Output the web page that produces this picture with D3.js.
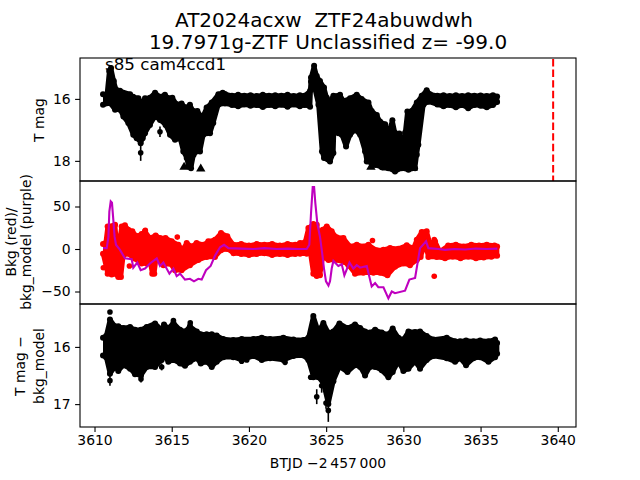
<!DOCTYPE html>
<html lang="en">
<head>
<meta charset="UTF-8">
<script src="https://d3js.org/d3.v7.min.js"></script>
<style>
    body { margin: 0; background: #fff; }
    svg { display: block; font-family: "DejaVu Sans", sans-serif; }
    .axis text { font-size: 13.9px; fill: #000; font-family: "DejaVu Sans", sans-serif; }
    .axis line { stroke: #000; stroke-width: 1.1; }
    .axis path { display: none; }
</style>
<title>AT2024acxw</title>
</head>
<body>
<svg id="chart" width="640" height="480"></svg>
<script>
// top panel: upper and lower edge of the T mag points
var topT1 = [3610.55,3610.8,3610.95,3611.07,3611.25,3611.4,3611.65,3612.3,3612.5,3612.84,3613.05,3613.27,3613.59,3613.92,3614.24,3614.56,3614.82,3615.04,3615.32,3615.64,3615.9,3616.18,3616.4,3616.66,3616.98,3617.26,3617.59,3618.02,3618.3,3618.45,3618.9,3619.3,3619.7,3620.1,3620.5,3620.9,3621.3,3621.7,3622.1,3622.5,3622.9,3623.3,3623.6,3623.96,3624.02,3624.22,3624.39,3624.6,3624.86,3625.04,3625.15,3625.47,3625.9,3626.12,3626.55,3626.98,3627.3,3627.74,3627.95,3628.28,3628.49,3628.82,3629.03,3629.29,3629.46,3629.74,3629.96,3630.11,3630.26,3630.54,3630.87,3631.19,3631.51,3631.73,3632.2,3632.6,3633.0,3633.4,3633.8,3634.2,3634.6,3635.0,3635.4,3635.8,3636.07];
var topM1 = [15.85,15.85,15.1,15.0,15.42,15.7,15.74,15.85,15.93,15.98,16.12,15.98,15.96,15.8,15.93,15.87,15.98,15.96,16.17,16.15,16.28,16.19,16.39,16.39,16.6,16.28,16.12,15.85,15.8,15.84,15.9,15.87,15.9,15.88,15.91,15.87,15.9,15.88,15.9,15.87,15.91,15.88,15.9,15.74,15.31,14.93,15.26,15.42,15.63,15.96,16.12,15.9,15.87,16.06,15.98,15.87,16.0,16.12,16.39,16.52,16.73,16.82,17.09,16.69,17.09,17.12,17.41,17.09,16.41,16.39,16.12,15.9,15.72,15.85,15.9,15.88,15.91,15.88,15.91,15.88,15.9,15.89,15.91,15.88,15.92];
var botT1 = [3610.55,3611.0,3611.33,3611.65,3611.87,3612.19,3612.51,3612.73,3612.9,3612.99,3613.12,3613.27,3613.59,3613.92,3614.24,3614.6,3614.89,3615.21,3615.53,3615.75,3615.97,3616.07,3616.25,3616.42,3616.61,3616.83,3617.05,3617.26,3617.48,3617.69,3618.02,3618.45,3618.9,3619.3,3619.7,3620.1,3620.5,3620.9,3621.3,3621.7,3622.1,3622.5,3622.9,3623.3,3623.6,3623.96,3624.02,3624.17,3624.5,3624.73,3624.86,3625.25,3625.47,3625.51,3625.79,3626.01,3626.29,3626.55,3626.87,3627.2,3627.52,3627.63,3628.17,3628.6,3629.03,3629.46,3629.89,3630.33,3630.76,3630.87,3630.97,3631.3,3631.62,3632.2,3632.6,3633.0,3633.4,3633.8,3634.2,3634.6,3635.0,3635.4,3635.8,3636.07];
var botM1 = [16.19,16.14,16.35,16.35,16.57,16.78,17.16,17.27,17.32,17.43,17.27,17.11,16.84,16.57,16.68,16.84,17.16,17.32,17.27,17.7,17.91,18.18,18.24,17.8,17.7,17.7,17.16,17.11,17.11,16.78,16.19,16.15,16.2,16.24,16.18,16.22,16.2,16.26,16.2,16.24,16.19,16.25,16.18,16.24,16.2,16.25,15.44,15.49,16.19,17.7,17.91,18.02,17.75,17.05,17.11,17.16,17.54,17.16,17.0,17.16,17.7,18.02,18.13,18.21,18.24,18.34,18.24,18.29,18.24,17.8,17.48,16.19,16.09,16.18,16.24,16.2,16.27,16.2,16.3,16.2,16.22,16.27,16.2,16.1];
var outT1 = [3612.99,3614.24,3616.25,3625.3,3628.82,3629.46,3630.2];
var outM1 = [17.74,17.06,18.1,17.85,18.1,18.1,18.1];
var outE1 = [0.26,0.17,0.2,0.2,0.15,0.2,0.15];
var limT1 = [3615.8,3616.88,3627.9,3628.9,3630.65];
var limM1 = [18.2,18.26,18.2,18.22,18.22];

// middle panel: edges of the background flux points
var topT2 = [3610.55,3610.72,3610.85,3611.33,3611.43,3611.58,3611.76,3611.97,3612.19,3612.45,3612.73,3613.05,3613.27,3613.59,3613.96,3614.24,3614.6,3615.0,3615.43,3615.69,3615.97,3616.29,3616.61,3617.05,3617.37,3617.8,3618.19,3618.6,3619.0,3619.5,3620.0,3620.5,3621.0,3621.5,3622.0,3622.5,3623.0,3623.31,3623.63,3623.85,3624.17,3624.39,3624.6,3624.78,3625.04,3625.36,3625.68,3626.12,3626.55,3626.98,3627.41,3627.74,3628.28,3628.71,3629.14,3629.68,3630.22,3630.65,3630.87,3631.19,3631.51,3631.73,3632.05,3632.37,3632.9,3633.4,3633.9,3634.4,3634.9,3635.4,3635.9,3636.07];
var topV2 = [5.9,7,26.6,28.6,9,7,26.6,27.8,22.7,20.8,14.9,17.6,20.8,12.9,16,12.9,12.9,9,5,-0.8,7,3,7,5,9,11,18.8,15,5,6,4,6,5,6,4,6,5,7,8,24.7,29.4,28.6,11,22.7,26.6,20.8,13.7,12.9,3,5,3,5,-1.6,-0.8,1.2,0.4,4.3,1.2,11,20,20.8,7,9,-2.8,4,5,3,5,4,5,4,3];
var botT2 = [3610.55,3610.85,3611.11,3611.33,3611.54,3611.71,3611.87,3612.19,3612.51,3613.05,3613.38,3613.59,3613.74,3613.87,3614.02,3614.46,3614.89,3615.21,3615.64,3616.18,3616.72,3617.26,3617.8,3618.19,3618.6,3619.0,3619.5,3620.0,3620.5,3621.0,3621.5,3622.0,3622.5,3623.0,3623.31,3623.74,3623.96,3624.17,3624.39,3624.6,3624.78,3625.15,3625.58,3626.12,3626.44,3626.87,3627.41,3628.06,3628.49,3628.97,3629.46,3630.0,3630.43,3630.87,3631.12,3631.4,3631.62,3632.16,3632.7,3633.2,3633.7,3634.2,3634.7,3635.2,3635.7,3636.07];
var botV2 = [-5.5,-29,-30,-29,-33,-33,-7.4,-5.5,-11,-17,-17,-15,-29,-29,-7.4,-19,-17,-25,-25,-19,-13,-9.4,-9.4,-1.5,0,-5,-6,-7,-6,-5,-7,-6,-7,-6,-5.5,-5.5,-3.5,-29,-31.7,-31,-9.4,-13,-13,-15,-19,-29,-28,-28,-28,-31,-21,-17,-19,-13,-9.4,6,-9.4,-9.4,-11,-9,-11,-9,-11,-10,-9,-8];
var outT2 = [3610.57,3615.36,3612.26,3613.29,3632.0,3628.0,3632.0];
var outV2 = [-22,14,-20,22,-32,10,11];

// middle panel: bkg_model curve
var tModel = [3610.55,3610.79,3610.9,3610.96,3611.05,3611.13,3611.22,3611.3,3611.39,3611.65,3611.97,3612.41,3612.51,3612.77,3612.99,3613.27,3613.59,3614.03,3614.24,3614.46,3614.85,3615.11,3615.32,3615.54,3615.86,3616.18,3616.44,3616.72,3616.94,3617.22,3617.52,3617.8,3618.13,3618.39,3618.67,3619.5,3620.3,3621,3621.8,3622.5,3623.2,3623.74,3623.91,3624.02,3624.13,3624.22,3624.3,3624.43,3624.6,3624.73,3624.86,3624.99,3625.15,3625.25,3625.36,3625.47,3625.79,3626.01,3626.18,3626.51,3626.76,3626.98,3627.2,3627.63,3627.95,3628.17,3628.38,3628.71,3629.03,3629.25,3629.46,3630.11,3630.39,3630.76,3631.08,3631.47,3631.62,3632.27,3632.7,3633.3,3634,3634.7,3635.4,3636.09];
var model = [1,1,14,44,56,54.5,34,14.5,5,-1,-11,-12,-22,-16,-25,-23,-17,-11,-20,-16,-29,-23,-32,-29,-36,-35,-38,-35,-36,-25,-20,-8,2,5,1,0.5,0,1,0,0.5,0,0,5,42,73,73,54,30,14.5,-3,-23,-38,-43,-38,-23,-14,-20,-18,-31,-16,-23,-19,-22,-20,-44,-40,-45,-45,-58,-50,-52,-49,-36,-34,1,9,1,0,-1,0,-0.5,0.5,0,0.5];

// bottom panel: T mag - bkg_model points
var t3 = [3610.55,3610.75,3611.0,3611.33,3611.54,3611.87,3612.3,3612.62,3613.01,3613.38,3613.92,3614.35,3614.5,3614.78,3615.11,3615.54,3615.86,3616.18,3616.62,3616.88,3617.26,3617.59,3617.91,3618.34,3618.99,3619.53,3620.29,3620.83,3621.37,3622.23,3622.88,3623.53,3623.85,3624.17,3624.5,3624.82,3625.14,3625.47,3625.86,3626.38,3626.87,3627.2,3627.52,3627.84,3628.17,3628.6,3629.03,3629.31,3629.68,3630.0,3630.33,3630.76,3631.08,3631.51,3631.95,3632.81,3633.35,3633.67,3634.06,3634.54,3634.97,3635.51,3635.94,3636.07];
var hi3 = [15.84,15.81,15.52,15.64,15.64,15.67,15.65,15.7,15.7,15.65,15.59,15.7,15.61,15.67,15.58,15.7,15.73,15.64,15.73,15.78,15.78,15.78,15.8,15.86,15.88,15.86,15.86,15.84,15.86,15.84,15.87,15.88,15.84,15.46,15.73,15.58,15.75,15.73,15.59,15.67,15.61,15.67,15.73,15.75,15.7,15.75,15.78,15.68,15.84,15.87,15.73,15.74,15.73,15.81,15.87,15.84,15.9,15.9,15.89,15.9,15.89,15.9,15.87,15.93];
var lo3 = [16.15,16.18,16.47,16.35,16.42,16.32,16.38,16.48,16.5,16.35,16.35,16.23,16.15,16.26,16.23,16.29,16.33,16.26,16.2,16.29,16.26,16.35,16.26,16.18,16.18,16.23,16.16,16.23,16.2,16.23,16.16,16.15,16.23,16.53,16.53,16.64,17.0,16.6,16.35,16.44,16.32,16.35,16.5,16.35,16.35,16.41,16.53,16.44,16.26,16.42,16.38,16.26,16.38,16.23,16.16,16.2,16.26,16.2,16.32,16.2,16.18,16.26,16.18,16.12];
var outT3 = [3611.0,3611.0,3613.01,3614.35,3616.2,3624.39,3624.71,3625.14,3624.99,3619.53,3619.86,3622.34,3616.88,3624.0,3615.11];
var outM3 = [15.39,16.59,16.56,16.35,15.58,16.87,16.68,17.11,16.98,16.25,16.23,16.27,16.26,16.53,15.54];
var outE3 = [0,0.09,0.06,0.06,0,0.13,0.12,0.2,0.1,0,0,0,0,0,0];

var xTicks = [3610,3615,3620,3625,3630,3635,3640];
var tVertical = 3639.7;

var svg = d3.select("#chart");
var left = 80, right = 576;

var x = d3.scaleLinear().domain([3609.06, 3641.18]).range([left, right]);
var y1 = d3.scaleLinear().domain([14.68, 18.65]).range([58, 181]);
var y2 = d3.scaleLinear().domain([80, -64.7]).range([181, 304]);
var y3 = d3.scaleLinear().domain([15.25, 17.4]).range([304, 427]);

var fmt = function (d) { return String(d).replace("-", "\u2212"); };

// closes the upper edge and the lower edge into one blob of overlapping points
function band(tTop, vTop, tBot, vBot, y, colour, r) {
    var pts = tTop.map(function (d, i) { return [x(d), y(vTop[i])]; });
    var low = tBot.map(function (d, i) { return [x(d), y(vBot[i])]; });
    var outline = pts.concat(low.slice().reverse());
    svg.append("path").datum(outline)
        .attr("d", d3.line())
        .attr("fill", colour)
        .attr("stroke", colour)
        .attr("stroke-width", r * 1.5)
        .attr("stroke-linejoin", "round");
    svg.append("g").selectAll("circle").data(outline).enter().append("circle")
        .attr("cx", function (d) { return d[0]; })
        .attr("cy", function (d) { return d[1]; })
        .attr("r", r)
        .attr("fill", colour);
}

function outliers(t, v, e, y, colour, r) {
    var g = svg.append("g");
    t.forEach(function (d, i) {
        if (e && e[i] > 0) {
            g.append("line")
                .attr("x1", x(d)).attr("x2", x(d))
                .attr("y1", y(v[i] - e[i])).attr("y2", y(v[i] + e[i]))
                .attr("stroke", colour).attr("stroke-width", 1.6);
        }
        g.append("circle").attr("cx", x(d)).attr("cy", y(v[i])).attr("r", r).attr("fill", colour);
    });
}

// top panel
band(topT1, topM1, botT1, botM1, y1, "#000", 3);
outliers(outT1, outM1, outE1, y1, "#000", 2.8);
svg.append("g").selectAll("path").data(limT1).enter().append("path")
    .attr("d", d3.symbol().type(d3.symbolTriangle).size(38))
    .attr("transform", function (d, i) { return "translate(" + x(d) + "," + y1(limM1[i]) + ")"; })
    .attr("fill", "#000");
svg.append("line")
    .attr("x1", x(tVertical)).attr("x2", x(tVertical))
    .attr("y1", 59).attr("y2", 181)
    .attr("stroke", "#f00").attr("stroke-width", 2)
    .attr("stroke-dasharray", "7.4,3.2");

// middle panel
band(topT2, topV2, botT2, botV2, y2, "#f00", 3);
outliers(outT2, outV2, null, y2, "#f00", 2.8);
svg.append("path").datum(tModel)
    .attr("d", d3.line().x(function (d) { return x(d); }).y(function (d, i) { return y2(model[i]); }))
    .attr("fill", "none")
    .attr("stroke", "#bf00bf")
    .attr("stroke-width", 2.1);

// bottom panel
band(t3, hi3, t3, lo3, y3, "#000", 3);
outliers(outT3, outM3, outE3, y3, "#000", 2.8);

// frames and axes
[y1, y2, y3].forEach(function (y) {
    svg.append("rect")
        .attr("x", left).attr("y", y.range()[0])
        .attr("width", right - left).attr("height", y.range()[1] - y.range()[0])
        .attr("fill", "none").attr("stroke", "#000").attr("stroke-width", 1.1);
});
function yAxis(y, ticks) {
    svg.append("g").attr("class", "axis")
        .attr("transform", "translate(" + left + ",0)")
        .call(d3.axisLeft(y).tickValues(ticks).tickFormat(fmt).tickSize(4.9).tickPadding(4.5));
}
yAxis(y1, [16, 18]);
yAxis(y2, [50, 0, -50]);
yAxis(y3, [16, 17]);
svg.append("g").attr("class", "axis")
    .attr("transform", "translate(0,427)")
    .call(d3.axisBottom(x).tickValues(xTicks).tickFormat(d3.format("d")).tickSize(4.9).tickPadding(3.5));

// text
function label(txt, px, py, size, rotate) {
    var el = svg.append("text").text(txt)
        .attr("font-size", size)
        .attr("text-anchor", "middle")
        .attr("fill", "#000")
        .style("white-space", "pre");
    el.attr("transform", "translate(" + px + "," + py + ")" + (rotate ? " rotate(-90)" : ""));
    return el;
}
label("AT2024acxw  ZTF24abuwdwh", 324, 27, 20);
label("19.7971g-ZTF Unclassified z= -99.0", 328, 49, 20);
svg.append("text").text("s85 cam4ccd1")
    .attr("x", 105).attr("y", 70).attr("font-size", 16.7).attr("fill", "#000");
label("T mag", 44, 120, 13.9, true);
label("Bkg (red)/", 16, 242, 13.9, true);
label("bkg_model (purple)", 31, 242, 13.9, true);
label("T mag \u2212", 25, 366, 13.9, true);
label("bkg_model", 44, 366, 13.9, true);
label("BTJD \u22122\u2009457\u2009000", 328, 468, 13.9);
</script>
</body>
</html>
